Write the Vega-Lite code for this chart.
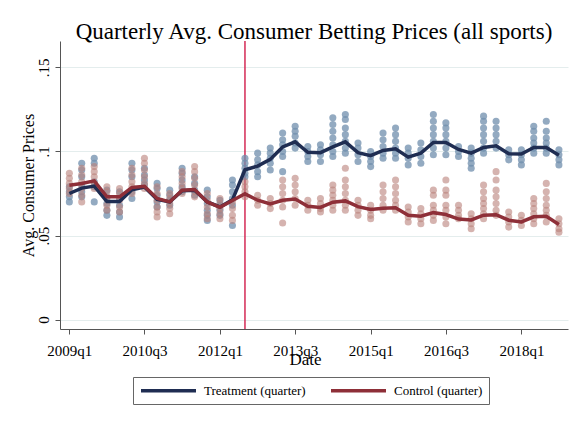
{
"$schema": "https://vega.github.io/schema/vega-lite/v6.json",
"width": 508, "height": 288,
"autosize": {"type": "none"},
"padding": {"left": 60, "top": 41, "right": 14, "bottom": 94},
"background": "white",
"config": {"view": {"stroke": null}, "font": "Liberation Serif"},
"title": {"text": "Quarterly Avg. Consumer Betting Prices (all sports)", "font": "Liberation Serif", "fontSize": 23, "fontWeight": "normal", "color": "black", "anchor": "middle", "frame": "group", "baseline": "alphabetic", "offset": -22},
"datasets": {
"cutoff": [{"d": "2012-07-01"}],
"lines": [
{"d":"2009-01-01","s":"Treatment (quarter)","v":0.0750},{"d":"2009-04-01","s":"Treatment (quarter)","v":0.0782},{"d":"2009-07-01","s":"Treatment (quarter)","v":0.0794},{"d":"2009-10-01","s":"Treatment (quarter)","v":0.0703},
{"d":"2010-01-01","s":"Treatment (quarter)","v":0.0703},{"d":"2010-04-01","s":"Treatment (quarter)","v":0.0772},{"d":"2010-07-01","s":"Treatment (quarter)","v":0.0789},{"d":"2010-10-01","s":"Treatment (quarter)","v":0.0715},
{"d":"2011-01-01","s":"Treatment (quarter)","v":0.0700},{"d":"2011-04-01","s":"Treatment (quarter)","v":0.0767},{"d":"2011-07-01","s":"Treatment (quarter)","v":0.0770},{"d":"2011-10-01","s":"Treatment (quarter)","v":0.0700},
{"d":"2012-01-01","s":"Treatment (quarter)","v":0.0670},{"d":"2012-04-01","s":"Treatment (quarter)","v":0.0712},{"d":"2012-07-01","s":"Treatment (quarter)","v":0.0891},{"d":"2012-10-01","s":"Treatment (quarter)","v":0.0913},
{"d":"2013-01-01","s":"Treatment (quarter)","v":0.0953},{"d":"2013-04-01","s":"Treatment (quarter)","v":0.1027},{"d":"2013-07-01","s":"Treatment (quarter)","v":0.1057},{"d":"2013-10-01","s":"Treatment (quarter)","v":0.0995},
{"d":"2014-01-01","s":"Treatment (quarter)","v":0.0993},{"d":"2014-04-01","s":"Treatment (quarter)","v":0.1027},{"d":"2014-07-01","s":"Treatment (quarter)","v":0.1057},{"d":"2014-10-01","s":"Treatment (quarter)","v":0.0993},
{"d":"2015-01-01","s":"Treatment (quarter)","v":0.0975},{"d":"2015-04-01","s":"Treatment (quarter)","v":0.1006},{"d":"2015-07-01","s":"Treatment (quarter)","v":0.1016},{"d":"2015-10-01","s":"Treatment (quarter)","v":0.0966},
{"d":"2016-01-01","s":"Treatment (quarter)","v":0.0990},{"d":"2016-04-01","s":"Treatment (quarter)","v":0.1054},{"d":"2016-07-01","s":"Treatment (quarter)","v":0.1054},{"d":"2016-10-01","s":"Treatment (quarter)","v":0.1012},
{"d":"2017-01-01","s":"Treatment (quarter)","v":0.0990},{"d":"2017-04-01","s":"Treatment (quarter)","v":0.1024},{"d":"2017-07-01","s":"Treatment (quarter)","v":0.1034},{"d":"2017-10-01","s":"Treatment (quarter)","v":0.0986},
{"d":"2018-01-01","s":"Treatment (quarter)","v":0.0985},{"d":"2018-04-01","s":"Treatment (quarter)","v":0.1024},{"d":"2018-07-01","s":"Treatment (quarter)","v":0.1024},{"d":"2018-10-01","s":"Treatment (quarter)","v":0.0978},
{"d":"2009-01-01","s":"Control (quarter)","v":0.0799},{"d":"2009-04-01","s":"Control (quarter)","v":0.0809},{"d":"2009-07-01","s":"Control (quarter)","v":0.0825},{"d":"2009-10-01","s":"Control (quarter)","v":0.0730},
{"d":"2010-01-01","s":"Control (quarter)","v":0.0730},{"d":"2010-04-01","s":"Control (quarter)","v":0.0786},{"d":"2010-07-01","s":"Control (quarter)","v":0.0793},{"d":"2010-10-01","s":"Control (quarter)","v":0.0720},
{"d":"2011-01-01","s":"Control (quarter)","v":0.0700},{"d":"2011-04-01","s":"Control (quarter)","v":0.0770},{"d":"2011-07-01","s":"Control (quarter)","v":0.0774},{"d":"2011-10-01","s":"Control (quarter)","v":0.0700},
{"d":"2012-01-01","s":"Control (quarter)","v":0.0668},{"d":"2012-04-01","s":"Control (quarter)","v":0.0708},{"d":"2012-07-01","s":"Control (quarter)","v":0.0748},{"d":"2012-10-01","s":"Control (quarter)","v":0.0710},
{"d":"2013-01-01","s":"Control (quarter)","v":0.0688},{"d":"2013-04-01","s":"Control (quarter)","v":0.0710},{"d":"2013-07-01","s":"Control (quarter)","v":0.0717},{"d":"2013-10-01","s":"Control (quarter)","v":0.0674},
{"d":"2014-01-01","s":"Control (quarter)","v":0.0667},{"d":"2014-04-01","s":"Control (quarter)","v":0.0698},{"d":"2014-07-01","s":"Control (quarter)","v":0.0706},{"d":"2014-10-01","s":"Control (quarter)","v":0.0672},
{"d":"2015-01-01","s":"Control (quarter)","v":0.0655},{"d":"2015-04-01","s":"Control (quarter)","v":0.0662},{"d":"2015-07-01","s":"Control (quarter)","v":0.0665},{"d":"2015-10-01","s":"Control (quarter)","v":0.0620},
{"d":"2016-01-01","s":"Control (quarter)","v":0.0615},{"d":"2016-04-01","s":"Control (quarter)","v":0.0636},{"d":"2016-07-01","s":"Control (quarter)","v":0.0625},{"d":"2016-10-01","s":"Control (quarter)","v":0.0598},
{"d":"2017-01-01","s":"Control (quarter)","v":0.0593},{"d":"2017-04-01","s":"Control (quarter)","v":0.0621},{"d":"2017-07-01","s":"Control (quarter)","v":0.0624},{"d":"2017-10-01","s":"Control (quarter)","v":0.0591},
{"d":"2018-01-01","s":"Control (quarter)","v":0.0581},{"d":"2018-04-01","s":"Control (quarter)","v":0.0611},{"d":"2018-07-01","s":"Control (quarter)","v":0.0614},{"d":"2018-10-01","s":"Control (quarter)","v":0.0566}
],
"pts": [
{"d":"2009-01-01","g":"T","v":0.079},{"d":"2009-01-01","g":"T","v":0.076},{"d":"2009-01-01","g":"T","v":0.073},{"d":"2009-01-01","g":"T","v":0.070},
{"d":"2009-01-01","g":"C","v":0.087},{"d":"2009-01-01","g":"C","v":0.084},{"d":"2009-01-01","g":"C","v":0.081},{"d":"2009-01-01","g":"C","v":0.078},{"d":"2009-01-01","g":"C","v":0.075},
{"d":"2009-04-01","g":"T","v":0.093},{"d":"2009-04-01","g":"T","v":0.089},{"d":"2009-04-01","g":"T","v":0.085},{"d":"2009-04-01","g":"T","v":0.080},{"d":"2009-04-01","g":"T","v":0.076},{"d":"2009-04-01","g":"T","v":0.073},
{"d":"2009-04-01","g":"C","v":0.090},{"d":"2009-04-01","g":"C","v":0.086},{"d":"2009-04-01","g":"C","v":0.082},{"d":"2009-04-01","g":"C","v":0.078},{"d":"2009-04-01","g":"C","v":0.074},{"d":"2009-04-01","g":"C","v":0.070},
{"d":"2009-07-01","g":"T","v":0.096},{"d":"2009-07-01","g":"T","v":0.093},{"d":"2009-07-01","g":"T","v":0.082},{"d":"2009-07-01","g":"T","v":0.079},{"d":"2009-07-01","g":"T","v":0.070},
{"d":"2009-07-01","g":"C","v":0.091},{"d":"2009-07-01","g":"C","v":0.088},{"d":"2009-07-01","g":"C","v":0.085},{"d":"2009-07-01","g":"C","v":0.081},{"d":"2009-07-01","g":"C","v":0.078},
{"d":"2009-10-01","g":"T","v":0.077},{"d":"2009-10-01","g":"T","v":0.073},{"d":"2009-10-01","g":"T","v":0.069},{"d":"2009-10-01","g":"T","v":0.065},{"d":"2009-10-01","g":"T","v":0.062},
{"d":"2009-10-01","g":"C","v":0.079},{"d":"2009-10-01","g":"C","v":0.076},{"d":"2009-10-01","g":"C","v":0.072},{"d":"2009-10-01","g":"C","v":0.068},{"d":"2009-10-01","g":"C","v":0.065},
{"d":"2010-01-01","g":"T","v":0.076},{"d":"2010-01-01","g":"T","v":0.072},{"d":"2010-01-01","g":"T","v":0.068},{"d":"2010-01-01","g":"T","v":0.064},{"d":"2010-01-01","g":"T","v":0.061},
{"d":"2010-01-01","g":"C","v":0.078},{"d":"2010-01-01","g":"C","v":0.075},{"d":"2010-01-01","g":"C","v":0.071},{"d":"2010-01-01","g":"C","v":0.067},{"d":"2010-01-01","g":"C","v":0.064},
{"d":"2010-04-01","g":"T","v":0.093},{"d":"2010-04-01","g":"T","v":0.089},{"d":"2010-04-01","g":"T","v":0.085},{"d":"2010-04-01","g":"T","v":0.076},{"d":"2010-04-01","g":"T","v":0.072},
{"d":"2010-04-01","g":"C","v":0.090},{"d":"2010-04-01","g":"C","v":0.086},{"d":"2010-04-01","g":"C","v":0.082},{"d":"2010-04-01","g":"C","v":0.079},{"d":"2010-04-01","g":"C","v":0.075},
{"d":"2010-07-01","g":"T","v":0.090},{"d":"2010-07-01","g":"T","v":0.086},{"d":"2010-07-01","g":"T","v":0.083},{"d":"2010-07-01","g":"T","v":0.080},
{"d":"2010-07-01","g":"C","v":0.096},{"d":"2010-07-01","g":"C","v":0.093},{"d":"2010-07-01","g":"C","v":0.089},{"d":"2010-07-01","g":"C","v":0.085},{"d":"2010-07-01","g":"C","v":0.081},{"d":"2010-07-01","g":"C","v":0.078},
{"d":"2010-10-01","g":"T","v":0.081},{"d":"2010-10-01","g":"T","v":0.078},{"d":"2010-10-01","g":"T","v":0.074},{"d":"2010-10-01","g":"T","v":0.070},{"d":"2010-10-01","g":"T","v":0.067},
{"d":"2010-10-01","g":"C","v":0.079},{"d":"2010-10-01","g":"C","v":0.075},{"d":"2010-10-01","g":"C","v":0.071},{"d":"2010-10-01","g":"C","v":0.067},{"d":"2010-10-01","g":"C","v":0.064},{"d":"2010-10-01","g":"C","v":0.061},
{"d":"2011-01-01","g":"T","v":0.077},{"d":"2011-01-01","g":"T","v":0.074},{"d":"2011-01-01","g":"T","v":0.071},{"d":"2011-01-01","g":"T","v":0.068},
{"d":"2011-01-01","g":"C","v":0.075},{"d":"2011-01-01","g":"C","v":0.072},{"d":"2011-01-01","g":"C","v":0.069},{"d":"2011-01-01","g":"C","v":0.066},{"d":"2011-01-01","g":"C","v":0.063},
{"d":"2011-04-01","g":"T","v":0.090},{"d":"2011-04-01","g":"T","v":0.087},{"d":"2011-04-01","g":"T","v":0.083},{"d":"2011-04-01","g":"T","v":0.079},{"d":"2011-04-01","g":"T","v":0.076},
{"d":"2011-04-01","g":"C","v":0.088},{"d":"2011-04-01","g":"C","v":0.085},{"d":"2011-04-01","g":"C","v":0.081},{"d":"2011-04-01","g":"C","v":0.078},{"d":"2011-04-01","g":"C","v":0.075},
{"d":"2011-07-01","g":"T","v":0.085},{"d":"2011-07-01","g":"T","v":0.081},{"d":"2011-07-01","g":"T","v":0.077},{"d":"2011-07-01","g":"T","v":0.074},
{"d":"2011-07-01","g":"C","v":0.091},{"d":"2011-07-01","g":"C","v":0.088},{"d":"2011-07-01","g":"C","v":0.084},{"d":"2011-07-01","g":"C","v":0.080},{"d":"2011-07-01","g":"C","v":0.076},{"d":"2011-07-01","g":"C","v":0.073},
{"d":"2011-10-01","g":"T","v":0.077},{"d":"2011-10-01","g":"T","v":0.073},{"d":"2011-10-01","g":"T","v":0.069},{"d":"2011-10-01","g":"T","v":0.065},{"d":"2011-10-01","g":"T","v":0.062},{"d":"2011-10-01","g":"T","v":0.059},
{"d":"2011-10-01","g":"C","v":0.075},{"d":"2011-10-01","g":"C","v":0.071},{"d":"2011-10-01","g":"C","v":0.067},{"d":"2011-10-01","g":"C","v":0.063},{"d":"2011-10-01","g":"C","v":0.060},
{"d":"2012-01-01","g":"T","v":0.071},{"d":"2012-01-01","g":"T","v":0.068},{"d":"2012-01-01","g":"T","v":0.065},{"d":"2012-01-01","g":"T","v":0.062},
{"d":"2012-01-01","g":"C","v":0.072},{"d":"2012-01-01","g":"C","v":0.069},{"d":"2012-01-01","g":"C","v":0.066},{"d":"2012-01-01","g":"C","v":0.063},{"d":"2012-01-01","g":"C","v":0.060},
{"d":"2012-04-01","g":"T","v":0.083},{"d":"2012-04-01","g":"T","v":0.080},{"d":"2012-04-01","g":"T","v":0.076},{"d":"2012-04-01","g":"T","v":0.072},{"d":"2012-04-01","g":"T","v":0.068},{"d":"2012-04-01","g":"T","v":0.056},
{"d":"2012-04-01","g":"C","v":0.070},{"d":"2012-04-01","g":"C","v":0.066},{"d":"2012-04-01","g":"C","v":0.062},{"d":"2012-04-01","g":"C","v":0.059},
{"d":"2012-07-01","g":"T","v":0.096},{"d":"2012-07-01","g":"T","v":0.093},{"d":"2012-07-01","g":"T","v":0.090},{"d":"2012-07-01","g":"T","v":0.087},{"d":"2012-07-01","g":"T","v":0.085},
{"d":"2012-07-01","g":"C","v":0.082},{"d":"2012-07-01","g":"C","v":0.079},{"d":"2012-07-01","g":"C","v":0.076},{"d":"2012-07-01","g":"C","v":0.073},
{"d":"2012-10-01","g":"T","v":0.099},{"d":"2012-10-01","g":"T","v":0.095},{"d":"2012-10-01","g":"T","v":0.092},{"d":"2012-10-01","g":"T","v":0.088},{"d":"2012-10-01","g":"T","v":0.085},
{"d":"2012-10-01","g":"C","v":0.074},{"d":"2012-10-01","g":"C","v":0.071},{"d":"2012-10-01","g":"C","v":0.068},
{"d":"2013-01-01","g":"T","v":0.102},{"d":"2013-01-01","g":"T","v":0.099},{"d":"2013-01-01","g":"T","v":0.096},{"d":"2013-01-01","g":"T","v":0.093},{"d":"2013-01-01","g":"T","v":0.089},
{"d":"2013-01-01","g":"C","v":0.072},{"d":"2013-01-01","g":"C","v":0.069},{"d":"2013-01-01","g":"C","v":0.066},
{"d":"2013-04-01","g":"T","v":0.111},{"d":"2013-04-01","g":"T","v":0.107},{"d":"2013-04-01","g":"T","v":0.104},{"d":"2013-04-01","g":"T","v":0.100},{"d":"2013-04-01","g":"T","v":0.097},{"d":"2013-04-01","g":"T","v":0.088},
{"d":"2013-04-01","g":"C","v":0.083},{"d":"2013-04-01","g":"C","v":0.079},{"d":"2013-04-01","g":"C","v":0.075},{"d":"2013-04-01","g":"C","v":0.071},{"d":"2013-04-01","g":"C","v":0.067},{"d":"2013-04-01","g":"C","v":0.0575},
{"d":"2013-07-01","g":"T","v":0.115},{"d":"2013-07-01","g":"T","v":0.112},{"d":"2013-07-01","g":"T","v":0.109},{"d":"2013-07-01","g":"T","v":0.105},{"d":"2013-07-01","g":"T","v":0.102},
{"d":"2013-07-01","g":"C","v":0.084},{"d":"2013-07-01","g":"C","v":0.080},{"d":"2013-07-01","g":"C","v":0.076},{"d":"2013-07-01","g":"C","v":0.072},{"d":"2013-07-01","g":"C","v":0.068},
{"d":"2013-10-01","g":"T","v":0.103},{"d":"2013-10-01","g":"T","v":0.100},{"d":"2013-10-01","g":"T","v":0.097},{"d":"2013-10-01","g":"T","v":0.094},
{"d":"2013-10-01","g":"C","v":0.071},{"d":"2013-10-01","g":"C","v":0.068},{"d":"2013-10-01","g":"C","v":0.065},
{"d":"2014-01-01","g":"T","v":0.104},{"d":"2014-01-01","g":"T","v":0.101},{"d":"2014-01-01","g":"T","v":0.098},{"d":"2014-01-01","g":"T","v":0.094},
{"d":"2014-01-01","g":"C","v":0.072},{"d":"2014-01-01","g":"C","v":0.069},{"d":"2014-01-01","g":"C","v":0.066},{"d":"2014-01-01","g":"C","v":0.064},
{"d":"2014-04-01","g":"T","v":0.120},{"d":"2014-04-01","g":"T","v":0.116},{"d":"2014-04-01","g":"T","v":0.112},{"d":"2014-04-01","g":"T","v":0.108},{"d":"2014-04-01","g":"T","v":0.104},{"d":"2014-04-01","g":"T","v":0.100},{"d":"2014-04-01","g":"T","v":0.097},
{"d":"2014-04-01","g":"C","v":0.080},{"d":"2014-04-01","g":"C","v":0.077},{"d":"2014-04-01","g":"C","v":0.074},{"d":"2014-04-01","g":"C","v":0.071},{"d":"2014-04-01","g":"C","v":0.068},{"d":"2014-04-01","g":"C","v":0.065},
{"d":"2014-07-01","g":"T","v":0.122},{"d":"2014-07-01","g":"T","v":0.119},{"d":"2014-07-01","g":"T","v":0.114},{"d":"2014-07-01","g":"T","v":0.110},{"d":"2014-07-01","g":"T","v":0.106},{"d":"2014-07-01","g":"T","v":0.102},{"d":"2014-07-01","g":"T","v":0.099},
{"d":"2014-07-01","g":"C","v":0.090},{"d":"2014-07-01","g":"C","v":0.083},{"d":"2014-07-01","g":"C","v":0.079},{"d":"2014-07-01","g":"C","v":0.075},{"d":"2014-07-01","g":"C","v":0.071},{"d":"2014-07-01","g":"C","v":0.068},{"d":"2014-07-01","g":"C","v":0.065},
{"d":"2014-10-01","g":"T","v":0.105},{"d":"2014-10-01","g":"T","v":0.102},{"d":"2014-10-01","g":"T","v":0.098},{"d":"2014-10-01","g":"T","v":0.094},
{"d":"2014-10-01","g":"C","v":0.071},{"d":"2014-10-01","g":"C","v":0.068},{"d":"2014-10-01","g":"C","v":0.065},{"d":"2014-10-01","g":"C","v":0.062},
{"d":"2015-01-01","g":"T","v":0.100},{"d":"2015-01-01","g":"T","v":0.097},{"d":"2015-01-01","g":"T","v":0.094},{"d":"2015-01-01","g":"T","v":0.091},
{"d":"2015-01-01","g":"C","v":0.068},{"d":"2015-01-01","g":"C","v":0.065},{"d":"2015-01-01","g":"C","v":0.062},{"d":"2015-01-01","g":"C","v":0.060},
{"d":"2015-04-01","g":"T","v":0.111},{"d":"2015-04-01","g":"T","v":0.107},{"d":"2015-04-01","g":"T","v":0.103},{"d":"2015-04-01","g":"T","v":0.099},{"d":"2015-04-01","g":"T","v":0.096},
{"d":"2015-04-01","g":"C","v":0.080},{"d":"2015-04-01","g":"C","v":0.076},{"d":"2015-04-01","g":"C","v":0.072},{"d":"2015-04-01","g":"C","v":0.068},{"d":"2015-04-01","g":"C","v":0.065},
{"d":"2015-07-01","g":"T","v":0.114},{"d":"2015-07-01","g":"T","v":0.110},{"d":"2015-07-01","g":"T","v":0.106},{"d":"2015-07-01","g":"T","v":0.102},{"d":"2015-07-01","g":"T","v":0.099},{"d":"2015-07-01","g":"T","v":0.096},
{"d":"2015-07-01","g":"C","v":0.083},{"d":"2015-07-01","g":"C","v":0.079},{"d":"2015-07-01","g":"C","v":0.075},{"d":"2015-07-01","g":"C","v":0.071},{"d":"2015-07-01","g":"C","v":0.068},{"d":"2015-07-01","g":"C","v":0.065},
{"d":"2015-10-01","g":"T","v":0.102},{"d":"2015-10-01","g":"T","v":0.099},{"d":"2015-10-01","g":"T","v":0.096},{"d":"2015-10-01","g":"T","v":0.092},
{"d":"2015-10-01","g":"C","v":0.067},{"d":"2015-10-01","g":"C","v":0.064},{"d":"2015-10-01","g":"C","v":0.061},{"d":"2015-10-01","g":"C","v":0.058},
{"d":"2016-01-01","g":"T","v":0.105},{"d":"2016-01-01","g":"T","v":0.101},{"d":"2016-01-01","g":"T","v":0.097},{"d":"2016-01-01","g":"T","v":0.093},
{"d":"2016-01-01","g":"C","v":0.066},{"d":"2016-01-01","g":"C","v":0.063},{"d":"2016-01-01","g":"C","v":0.060},{"d":"2016-01-01","g":"C","v":0.057},
{"d":"2016-04-01","g":"T","v":0.122},{"d":"2016-04-01","g":"T","v":0.118},{"d":"2016-04-01","g":"T","v":0.114},{"d":"2016-04-01","g":"T","v":0.110},{"d":"2016-04-01","g":"T","v":0.106},{"d":"2016-04-01","g":"T","v":0.102},{"d":"2016-04-01","g":"T","v":0.098},
{"d":"2016-04-01","g":"C","v":0.077},{"d":"2016-04-01","g":"C","v":0.074},{"d":"2016-04-01","g":"C","v":0.068},{"d":"2016-04-01","g":"C","v":0.065},{"d":"2016-04-01","g":"C","v":0.062},{"d":"2016-04-01","g":"C","v":0.059},
{"d":"2016-07-01","g":"T","v":0.117},{"d":"2016-07-01","g":"T","v":0.114},{"d":"2016-07-01","g":"T","v":0.110},{"d":"2016-07-01","g":"T","v":0.106},{"d":"2016-07-01","g":"T","v":0.102},{"d":"2016-07-01","g":"T","v":0.098},
{"d":"2016-07-01","g":"C","v":0.083},{"d":"2016-07-01","g":"C","v":0.077},{"d":"2016-07-01","g":"C","v":0.074},{"d":"2016-07-01","g":"C","v":0.068},{"d":"2016-07-01","g":"C","v":0.065},{"d":"2016-07-01","g":"C","v":0.061},{"d":"2016-07-01","g":"C","v":0.057},
{"d":"2016-10-01","g":"T","v":0.103},{"d":"2016-10-01","g":"T","v":0.100},{"d":"2016-10-01","g":"T","v":0.097},
{"d":"2016-10-01","g":"C","v":0.068},{"d":"2016-10-01","g":"C","v":0.065},{"d":"2016-10-01","g":"C","v":0.062},{"d":"2016-10-01","g":"C","v":0.060},
{"d":"2017-01-01","g":"T","v":0.102},{"d":"2017-01-01","g":"T","v":0.099},{"d":"2017-01-01","g":"T","v":0.096},{"d":"2017-01-01","g":"T","v":0.093},{"d":"2017-01-01","g":"T","v":0.090},
{"d":"2017-01-01","g":"C","v":0.063},{"d":"2017-01-01","g":"C","v":0.060},{"d":"2017-01-01","g":"C","v":0.057},{"d":"2017-01-01","g":"C","v":0.054},
{"d":"2017-04-01","g":"T","v":0.121},{"d":"2017-04-01","g":"T","v":0.118},{"d":"2017-04-01","g":"T","v":0.114},{"d":"2017-04-01","g":"T","v":0.110},{"d":"2017-04-01","g":"T","v":0.106},{"d":"2017-04-01","g":"T","v":0.102},{"d":"2017-04-01","g":"T","v":0.099},
{"d":"2017-04-01","g":"C","v":0.080},{"d":"2017-04-01","g":"C","v":0.076},{"d":"2017-04-01","g":"C","v":0.072},{"d":"2017-04-01","g":"C","v":0.069},{"d":"2017-04-01","g":"C","v":0.066},{"d":"2017-04-01","g":"C","v":0.063},{"d":"2017-04-01","g":"C","v":0.060},
{"d":"2017-07-01","g":"T","v":0.118},{"d":"2017-07-01","g":"T","v":0.114},{"d":"2017-07-01","g":"T","v":0.110},{"d":"2017-07-01","g":"T","v":0.106},{"d":"2017-07-01","g":"T","v":0.102},
{"d":"2017-07-01","g":"C","v":0.088},{"d":"2017-07-01","g":"C","v":0.083},{"d":"2017-07-01","g":"C","v":0.077},{"d":"2017-07-01","g":"C","v":0.073},{"d":"2017-07-01","g":"C","v":0.069},{"d":"2017-07-01","g":"C","v":0.065},{"d":"2017-07-01","g":"C","v":0.062},
{"d":"2017-10-01","g":"T","v":0.101},{"d":"2017-10-01","g":"T","v":0.098},{"d":"2017-10-01","g":"T","v":0.095},
{"d":"2017-10-01","g":"C","v":0.064},{"d":"2017-10-01","g":"C","v":0.061},{"d":"2017-10-01","g":"C","v":0.058},{"d":"2017-10-01","g":"C","v":0.055},
{"d":"2018-01-01","g":"T","v":0.101},{"d":"2018-01-01","g":"T","v":0.098},{"d":"2018-01-01","g":"T","v":0.095},{"d":"2018-01-01","g":"T","v":0.092},
{"d":"2018-01-01","g":"C","v":0.062},{"d":"2018-01-01","g":"C","v":0.059},{"d":"2018-01-01","g":"C","v":0.056},
{"d":"2018-04-01","g":"T","v":0.115},{"d":"2018-04-01","g":"T","v":0.112},{"d":"2018-04-01","g":"T","v":0.108},{"d":"2018-04-01","g":"T","v":0.105},{"d":"2018-04-01","g":"T","v":0.102},{"d":"2018-04-01","g":"T","v":0.099},
{"d":"2018-04-01","g":"C","v":0.072},{"d":"2018-04-01","g":"C","v":0.069},{"d":"2018-04-01","g":"C","v":0.066},{"d":"2018-04-01","g":"C","v":0.063},{"d":"2018-04-01","g":"C","v":0.060},{"d":"2018-04-01","g":"C","v":0.057},
{"d":"2018-07-01","g":"T","v":0.118},{"d":"2018-07-01","g":"T","v":0.112},{"d":"2018-07-01","g":"T","v":0.108},{"d":"2018-07-01","g":"T","v":0.105},{"d":"2018-07-01","g":"T","v":0.102},{"d":"2018-07-01","g":"T","v":0.099},
{"d":"2018-07-01","g":"C","v":0.081},{"d":"2018-07-01","g":"C","v":0.076},{"d":"2018-07-01","g":"C","v":0.072},{"d":"2018-07-01","g":"C","v":0.068},{"d":"2018-07-01","g":"C","v":0.065},{"d":"2018-07-01","g":"C","v":0.062},{"d":"2018-07-01","g":"C","v":0.058},
{"d":"2018-10-01","g":"T","v":0.101},{"d":"2018-10-01","g":"T","v":0.098},{"d":"2018-10-01","g":"T","v":0.095},{"d":"2018-10-01","g":"T","v":0.092},
{"d":"2018-10-01","g":"C","v":0.060},{"d":"2018-10-01","g":"C","v":0.057},{"d":"2018-10-01","g":"C","v":0.054},{"d":"2018-10-01","g":"C","v":0.052}
]
},
"encoding": {
  "x": {"field": "d", "type": "temporal",
    "scale": {"type": "utc", "domain": [{"year": 2008, "month": 10, "date": 25, "utc": true}, {"year": 2018, "month": 12, "date": 6, "utc": true}], "nice": false},
    "axis": {"values": [{"year": 2009, "month": 1, "date": 1, "utc": true}, {"year": 2010, "month": 7, "date": 1, "utc": true}, {"year": 2012, "month": 1, "date": 1, "utc": true}, {"year": 2013, "month": 7, "date": 1, "utc": true}, {"year": 2015, "month": 1, "date": 1, "utc": true}, {"year": 2016, "month": 7, "date": 1, "utc": true}, {"year": 2018, "month": 1, "date": 1, "utc": true}],
      "labelExpr": "utcFormat(datum.value, '%Yq%q')",
      "grid": false, "labelFlush": false, "labelOverlap": false,
      "labelFont": "Liberation Serif", "labelFontSize": 15, "labelColor": "black", "labelBaseline": "alphabetic", "labelPadding": 21,
      "tickSize": 5, "tickColor": "#555555", "domainColor": "#555555",
      "title": "Date", "titleFont": "Liberation Serif", "titleFontSize": 17, "titleFontWeight": "normal", "titleColor": "black", "titleX": 245, "titleY": 35, "titleBaseline": "alphabetic", "titleAlign": "center"}}
},
"layer": [
  {"data": {"name": "cutoff"}, "mark": {"type": "rule", "color": "#d42a55", "strokeWidth": 1.5}},
  {"data": {"name": "pts"}, "transform": [{"filter": "datum.g == 'T'"}],
   "mark": {"type": "circle", "size": 50, "opacity": 0.75, "color": "#6f8dac"},
   "encoding": {"y": {"field": "v", "type": "quantitative",
     "scale": {"domain": [-0.0056, 0.1657], "nice": false, "zero": false},
     "axis": {"values": [0, 0.05, 0.1, 0.15], "labelExpr": "datum.value == 0 ? '0' : replace(toString(datum.value), '0.', '.')",
       "grid": true, "gridColor": "#e4eded", "gridWidth": 1,
       "labelAngle": -90, "labelAlign": "center", "labelBaseline": "alphabetic", "labelPadding": 7,
       "labelFont": "Liberation Serif", "labelFontSize": 15, "labelColor": "black",
       "tickSize": 5, "tickColor": "#555555", "domainColor": "#555555",
       "title": "Avg. Consumer Prices", "titleFont": "Liberation Serif", "titleFontSize": 16, "titleFontWeight": "normal", "titleColor": "black", "titleAngle": -90, "titleX": -27, "titleY": 144, "titleBaseline": "alphabetic", "titleAlign": "center"}}}},
  {"data": {"name": "pts"}, "transform": [{"filter": "datum.g == 'C'"}],
   "mark": {"type": "circle", "size": 50, "opacity": 0.6, "color": "#b98079"},
   "encoding": {"y": {"field": "v", "type": "quantitative"}}},
  {"data": {"name": "lines"},
   "mark": {"type": "line", "strokeWidth": 3.5},
   "encoding": {"y": {"field": "v", "type": "quantitative"},
     "color": {"field": "s", "type": "nominal", "sort": null,
       "scale": {"domain": ["Treatment (quarter)", "Control (quarter)"], "range": ["#1f2d52", "#8e2f38"]},
       "legend": {"orient": "none", "legendX": 73, "legendY": 336, "direction": "horizontal", "title": null,
         "symbolType": "M-1,0H9", "symbolSize": 121, "symbolStrokeWidth": 3.5,
         "labelFont": "Liberation Serif", "labelFontSize": 13, "labelColor": "black", "labelOffset": 50,
         "columnPadding": 18, "padding": 6, "strokeColor": "#666666", "fillColor": "white"}}}}
]
}
